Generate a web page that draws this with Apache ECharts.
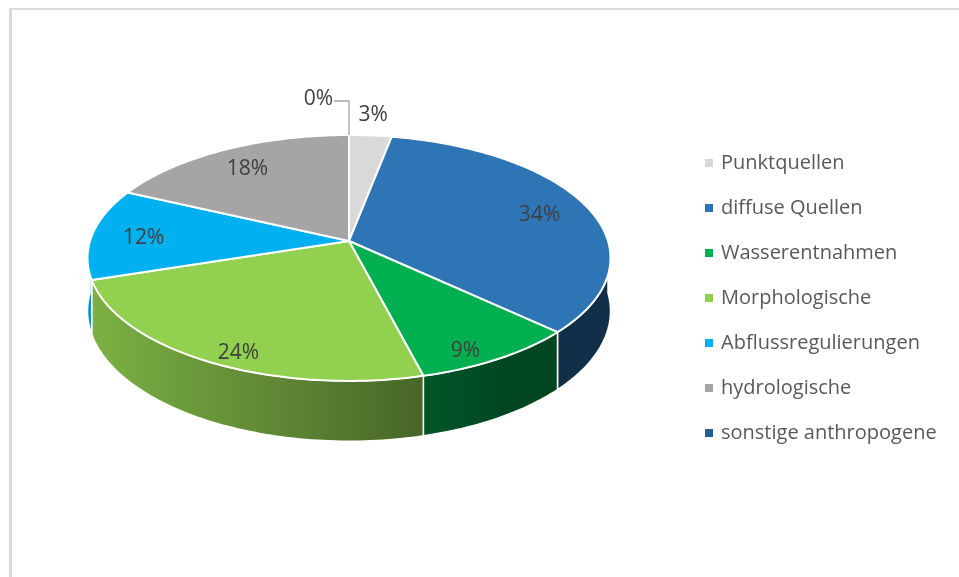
<!DOCTYPE html>
<html>
<head>
<meta charset="utf-8">
<script src="https://cdn.jsdelivr.net/npm/echarts@6/dist/echarts.min.js"></script>
<style>
  html, body { margin: 0; padding: 0; background: #fff; }
  #chart { width: 959px; height: 577px; }
</style>
</head>
<body>
<div id="chart"></div>
<script>
var categories = ['Punktquellen', 'diffuse Quellen', 'Wasserentnahmen', 'Morphologische',
    'Abflussregulierungen', 'hydrologische', 'sonstige anthropogene'];
var values = [3, 34, 9, 24, 12, 18, 0];
var colors = ['#d9d9d9', '#2e75b6', '#00b050', '#92d050', '#00b0f0', '#a5a5a5', '#255e91'];

// 3d pie look (Excel style): centre, radii, perspective, depth
var CX = 349, CY = 241, R = 259, RY = 120.6, K = 0.138, H = 52;
var FONT = '21px "Open Sans", "Noto Sans", sans-serif';

var total = 0;
var starts = [];
for (var i = 0; i < values.length; i++) {
    starts.push(total);
    total += values[i];
}

function ang(v) {
    return -Math.PI / 2 + 2 * Math.PI * v / total;
}

// point of the disk: phi angle, t 0 = top face / 1 = bottom, r radius fraction
function proj(phi, t, r) {
    if (r == null) r = 1;
    var s = Math.sin(phi), c = Math.cos(phi);
    var f = 1 / (1 - K * r * s);
    return [CX + R * r * c * f, CY + (RY * r * s + t * H) * f];
}

function shade(hex, b) {
    var n = parseInt(hex.slice(1), 16);
    var r = Math.round(((n >> 16) & 255) * b);
    var g = Math.round(((n >> 8) & 255) * b);
    var bl = Math.round((n & 255) * b);
    return 'rgb(' + r + ',' + g + ',' + bl + ')';
}

function wallFill(hex) {
    var x0 = CX - R - 5, x1 = CX + R + 5;
    var stops = [];
    for (var j = 0; j <= 10; j++) {
        var x = x0 + (x1 - x0) * j / 10;
        var b = Math.max(0.4, 0.85 - 0.35 * (x - 90) / 325);
        stops.push({offset: j / 10, color: shade(hex, b)});
    }
    return new echarts.graphic.LinearGradient(x0, 0, x1, 0, stops, true);
}

function renderSlice(params, api) {
    var idx = params.dataIndex;
    var v = values[idx];
    var a0 = ang(starts[idx]);
    var a1 = ang(starts[idx] + v);
    var children = [];
    var pct = Math.round(v / total * 100) + '%';

    if (v > 0) {
        var n = Math.max(4, Math.ceil((a1 - a0) / 0.02));
        // side wall, only the front half is seen
        var w0 = Math.max(a0, 0), w1 = Math.min(a1, Math.PI);
        if (w1 > w0) {
            var topPts = [], botPts = [];
            var m = Math.max(4, Math.ceil((w1 - w0) / 0.02));
            for (var j = 0; j <= m; j++) {
                var p = w0 + (w1 - w0) * j / m;
                topPts.push(proj(p, 0));
                botPts.unshift(proj(p, 1));
            }
            children.push({
                type: 'polygon', z2: 1,
                shape: {points: topPts.concat(botPts)},
                style: {fill: wallFill(colors[idx]), stroke: '#fff', lineWidth: 1.5, lineJoin: 'round'}
            });
        }
        // top face
        var pts = [[CX, CY]];
        for (var j = 0; j <= n; j++) {
            pts.push(proj(a0 + (a1 - a0) * j / n, 0));
        }
        children.push({
            type: 'polygon', z2: 10,
            shape: {points: pts},
            style: {fill: colors[idx], stroke: '#fff', lineWidth: 2, lineJoin: 'round'}
        });
    }

    var mid = (a0 + a1) / 2;
    var lx, ly, align = 'center';
    if (v >= 5) {
        var lp = proj(mid, 0, 0.8);
        var f = 1 / (1 - K * 0.8 * Math.sin(mid));
        lx = lp[0];
        ly = lp[1] + 3 + 0.3 * H * f * Math.max(0, Math.sin(mid));
    } else if (v >= 1) {
        var rp = proj(mid, 0);
        var dx = rp[0] - CX, dy = rp[1] - CY, d = Math.sqrt(dx * dx + dy * dy);
        lx = rp[0] + dx / d * 14;
        ly = rp[1] + dy / d * 21;
    } else {
        // zero slice: leader line up and to the left
        var rp = proj(mid, 0);
        children.push({
            type: 'polyline', z2: 15,
            shape: {points: [rp, [rp[0], rp[1] - 34], [rp[0] - 15, rp[1] - 34]]},
            style: {stroke: '#a6a6a6', lineWidth: 1.3, fill: null}
        });
        lx = rp[0] - 16;
        ly = rp[1] - 36;
        align = 'right';
    }
    children.push({
        type: 'text', z2: 20, x: lx, y: ly,
        style: {text: pct, fill: '#404040', font: FONT, align: align, verticalAlign: 'middle'}
    });
    return {type: 'group', children: children};
}

var chart = echarts.init(document.getElementById('chart'), null, {renderer: 'canvas'});

var legendData = [];
for (var i = 0; i < categories.length; i++) {
    legendData.push({name: categories[i], value: values[i], itemStyle: {color: colors[i]}});
}

var option = {
    backgroundColor: '#fff',
    animation: false,
    legend: {
        orient: 'vertical',
        left: 700,
        top: 147,
        icon: 'rect',
        itemWidth: 8,
        itemHeight: 8,
        itemGap: 23,
        selectedMode: false,
        textStyle: {
            fontFamily: '"Open Sans", "Noto Sans", sans-serif',
            fontSize: 20,
            lineHeight: 22,
            color: '#595959',
            padding: [0, 0, 0, 3]
        },
        data: categories
    },
    graphic: [
        {type: 'line', shape: {x1: 9, y1: 9, x2: 959, y2: 9}, style: {stroke: '#d9d9d9', lineWidth: 2}},
        {type: 'line', shape: {x1: 10.5, y1: 8, x2: 10.5, y2: 577}, style: {stroke: '#d9d9d9', lineWidth: 3}}
    ],
    series: [
        {
            // only feeds the legend
            type: 'pie',
            center: [-50, -50],
            radius: [0, 1],
            silent: true,
            label: {show: false},
            labelLine: {show: false},
            data: legendData
        },
        {
            type: 'custom',
            coordinateSystem: 'none',
            renderItem: renderSlice,
            data: values
        }
    ]
};
chart.setOption(option);
</script>
</body>
</html>
